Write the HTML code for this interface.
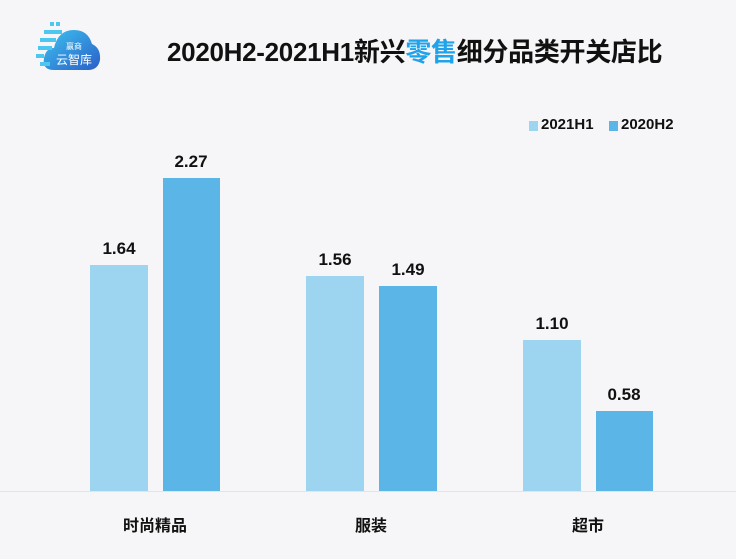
<!DOCTYPE html>
<html><head><meta charset="utf-8"><style>
body{margin:0;width:736px;height:559px;background:#f6f6f8;overflow:hidden;font-family:"Liberation Sans","Noto Sans CJK SC",sans-serif;position:relative}
.t{position:absolute;white-space:nowrap;font-weight:bold;color:#111}
.bar{position:absolute}
.l{background:#9dd5f0}.d{background:#5bb5e6}
.v{position:absolute;width:80px;text-align:center;font-weight:bold;font-size:17px;color:#111}
.c{position:absolute;width:160px;text-align:center;font-weight:bold;font-size:16px;color:#111}
</style></head><body>
<svg style="position:absolute;left:36px;top:18px" width="66" height="56" viewBox="0 0 66 56">
<defs><linearGradient id="g" x1="0" y1="0" x2="1" y2="1"><stop offset="0" stop-color="#3ec3f0"/><stop offset="1" stop-color="#2a5fc8"/></linearGradient></defs>
<path d="M18 52 Q6 52 8 40 Q10 30 18 30 Q22 12 38 12 Q52 12 56 26 Q65 30 64 42 Q62 52 52 52 Z" fill="url(#g)"/>
<g fill="#4cc8f0"><rect x="14" y="4" width="4" height="4"/><rect x="20" y="4" width="4" height="4"/><rect x="8" y="12" width="18" height="4"/><rect x="4" y="20" width="16" height="4"/><rect x="2" y="28" width="14" height="4"/><rect x="0" y="36" width="8" height="4"/><rect x="4" y="44" width="10" height="4"/></g>
<text x="38" y="31" font-size="8" fill="#fff" text-anchor="middle" font-family="Noto Sans CJK SC">赢商</text>
<text x="38" y="46" font-size="12" fill="#fff" text-anchor="middle" font-family="Noto Sans CJK SC">云智库</text>
</svg>
<div class="t" style="left:167px;top:32px;font-size:26px;letter-spacing:-0.3px">2020H2-2021H1新兴<span style="color:#1fa3ea">零售</span>细分品类开关店比</div>
<div style="position:absolute;left:529px;top:121px;width:9px;height:10px;background:#9dd5f0"></div>
<div class="t" style="left:541px;top:116px;font-size:15px">2021H1</div>
<div style="position:absolute;left:609px;top:121px;width:9px;height:10px;background:#5bb5e6"></div>
<div class="t" style="left:621px;top:116px;font-size:15px">2020H2</div>
<div style="position:absolute;left:0;top:491px;width:736px;height:1px;background:#e4e4e6"></div>
<div class="bar l" style="left:90px;top:265px;width:58px;height:226px"></div>
<div class="bar d" style="left:163px;top:178px;width:57px;height:313px"></div>
<div class="bar l" style="left:306px;top:276px;width:58px;height:215px"></div>
<div class="bar d" style="left:379px;top:286px;width:58px;height:205px"></div>
<div class="bar l" style="left:523px;top:340px;width:58px;height:151px"></div>
<div class="bar d" style="left:596px;top:411px;width:57px;height:80px"></div>
<div class="v" style="left:79px;top:239px">1.64</div>
<div class="v" style="left:151px;top:152px">2.27</div>
<div class="v" style="left:295px;top:250px">1.56</div>
<div class="v" style="left:368px;top:260px">1.49</div>
<div class="v" style="left:512px;top:314px">1.10</div>
<div class="v" style="left:584px;top:385px">0.58</div>
<div class="c" style="left:75px;top:512px">时尚精品</div>
<div class="c" style="left:291px;top:512px">服装</div>
<div class="c" style="left:508px;top:512px">超市</div>
</body></html>
